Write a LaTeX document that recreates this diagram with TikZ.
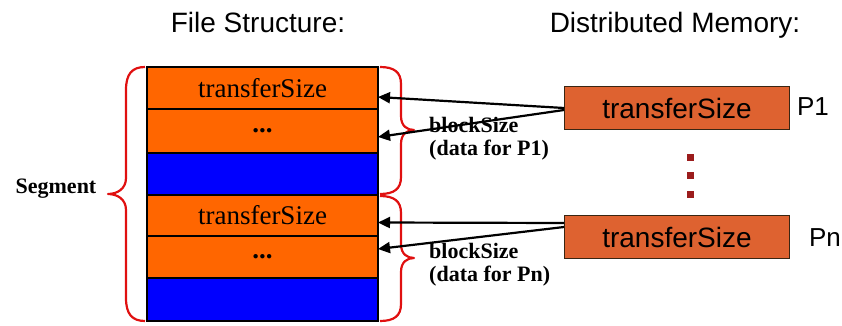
\documentclass[tikz,border=0pt]{standalone}
\usepackage{fontspec}
\setmainfont{Liberation Serif}
\newfontfamily\arialf{Liberation Sans}
\usetikzlibrary{arrows.meta}
\definecolor{segorange}{HTML}{FF6600}
\definecolor{segblue}{HTML}{0000FF}
\definecolor{memorange}{HTML}{DE6230}
\definecolor{braceRed}{HTML}{E01010}
\definecolor{dotRed}{HTML}{9B1C1C}
\tikzset{
  rowbox/.style={draw=black, line width=1.6pt, minimum width=231pt, minimum height=#1, inner sep=0pt, outer sep=0pt, font=\fontsize{27}{30}\selectfont},
  orow/.style={rowbox=#1, fill=segorange},
  brow/.style={rowbox=#1, fill=segblue},
  membox/.style={draw=black!70!brown, line width=1pt, fill=memorange, minimum width=225pt, minimum height=43pt, inner sep=0pt, font=\arialf\fontsize{28}{30}\selectfont},
  title/.style={font=\arialf\fontsize{28}{30}\selectfont, anchor=base},
  plabel/.style={font=\arialf\fontsize{26}{28}\selectfont},
  blabel/.style={font=\bfseries\fontsize{22}{26}\selectfont, align=left, anchor=north west, inner sep=0pt},
  redbrace/.style={draw=braceRed, line width=2.2pt, line join=round},
  arr/.style={draw=black, line width=2.2pt, -{Triangle[length=12pt,width=11pt]}},
  dotsq/.style={fill=dotRed, minimum size=7pt, inner sep=0pt}
}
\begin{document}
\begin{tikzpicture}[x=1pt,y=-1pt]
\useasboundingbox (0,0) rectangle (842,326);
% titles
\node[title] (t1) at (258,33) {File Structure:};
\node[title] (t2) at (675,33) {Distributed Memory:};
% stack
\node[orow=42pt, anchor=north west] (r1) at (147,67) {transferSize};
\node[orow=44pt, anchor=north west] (r2) at (147,109) {\textbf{...}};
\node[brow=42pt, anchor=north west] (r3) at (147,153) {};
\node[orow=41pt, anchor=north west] (r4) at (147,195) {transferSize};
\node[orow=42pt, anchor=north west] (r5) at (147,236) {\textbf{...}};
\node[brow=43pt, anchor=north west] (r6) at (147,278) {};
% braces
\draw[redbrace] (145,67) .. controls (132,67) and (126,74) .. (126,90) -- (126,178)
  .. controls (126,189) and (117,194) .. (108,194) .. controls (117,194) and (126,199) .. (126,210)
  -- (126,298) .. controls (126,314) and (132,321) .. (145,321);
\draw[redbrace] (380,67) .. controls (394,67) and (401,72) .. (401,84) -- (401,116)
  .. controls (401,126) and (407,130) .. (414,130) .. controls (407,130) and (401,134) .. (401,144)
  -- (401,177) .. controls (401,189) and (394,194) .. (380,194);
\draw[redbrace] (380,196) .. controls (394,196) and (401,201) .. (401,213) -- (401,244)
  .. controls (401,254) and (407,258) .. (414,258) .. controls (407,258) and (401,262) .. (401,272)
  -- (401,304) .. controls (401,316) and (394,321) .. (380,321);
\node[font=\bfseries\fontsize{22}{26}\selectfont] (seg) at (56,189) {Segment};
% memory boxes
\node[membox, anchor=north west] (p1) at (564,86) {transferSize};
\node[membox, anchor=north west] (pn) at (564,215) {transferSize};
\node[plabel] (lp1) at (813,107) {P1};
\node[plabel] (lpn) at (825,238) {Pn};
\node[dotsq] (d1) at (690,157) {};
\node[dotsq] (d2) at (690,175) {};
\node[dotsq] (d3) at (690,194) {};
% labels
\node[blabel] (bl1) at (429,117) {blockSize\\[-3pt](data for P1)};
\node[blabel] (bl2) at (429,243) {blockSize\\[-3pt](data for Pn)};
% arrows
\draw[arr] ([yshift=0pt]p1.west) -- ([yshift=-9pt]r1.east);
\draw[arr] ([yshift=-2pt]p1.west) -- ([yshift=-6pt]r2.east);
\draw[arr] ([yshift=14pt]pn.west) -- ([yshift=-7pt]r4.east);
\draw[arr] ([yshift=10pt]pn.west) -- ([yshift=8pt]r5.east);
\end{tikzpicture}
\end{document}
